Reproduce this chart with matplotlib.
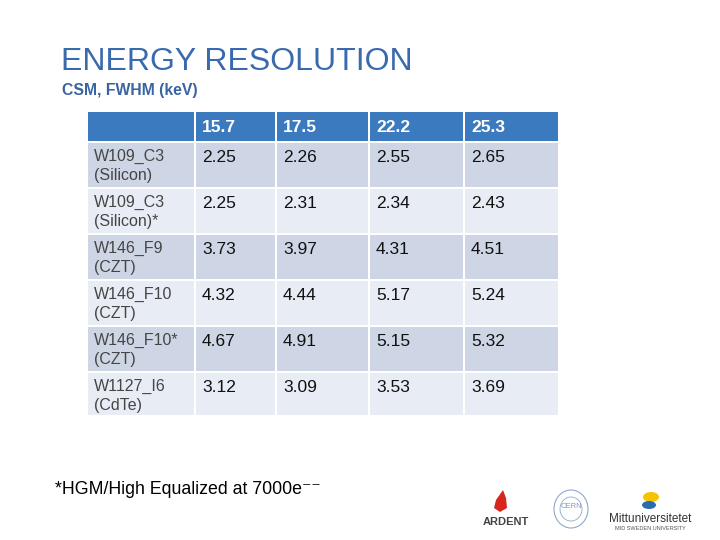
import matplotlib
matplotlib.use("Agg")
import matplotlib.pyplot as plt
from matplotlib.patches import Rectangle, Polygon, Ellipse

plt.rcParams['font.family'] = ['Liberation Sans', 'DejaVu Sans']

title = "ENERGY RESOLUTION"
subtitle = "CSM, FWHM (keV)"
energies = ["15.7", "17.5", "22.2", "25.3"]
detectors = ["W109_C3\n(Silicon)", "W109_C3\n(Silicon)*", "W146_F9\n(CZT)",
             "W146_F10\n(CZT)", "W146_F10*\n(CZT)", "W1127_I6\n(CdTe)"]
fwhm = [
    [2.25, 2.26, 2.55, 2.65],
    [2.25, 2.31, 2.34, 2.43],
    [3.73, 3.97, 4.31, 4.51],
    [4.32, 4.44, 5.17, 5.24],
    [4.67, 4.91, 5.15, 5.32],
    [3.12, 3.09, 3.53, 3.69],
]
footnote = "*HGM/High Equalized at 7000e\u207b\u207b"

fig = plt.figure(figsize=(7.2, 5.4), dpi=100)
ax = fig.add_axes([0, 0, 1, 1])
ax.set_xlim(0, 720)
ax.set_ylim(540, 0)
ax.axis('off')

# title
ax.text(61, 62, title, fontsize=23, color='#3A6AAE', va='center', ha='left')
ax.text(62, 90, subtitle, fontsize=11.3, fontweight='bold', color='#3A64A0', va='center', ha='left')

# table geometry
col_edges = [88, 195, 276, 369, 464, 559]
header_top, header_h, row_h = 112, 29, 46
gap = 2
header_col = '#3C7ABF'
odd_col = '#CED6E6'
even_col = '#E8ECF4'

for j in range(len(col_edges) - 1):
    x0 = col_edges[j] + (gap / 2 if j > 0 else 0)
    x1 = col_edges[j + 1] - gap / 2
    ax.add_patch(Rectangle((x0, header_top), x1 - x0, header_h, facecolor=header_col, edgecolor='none'))
    if j > 0:
        ax.text(x0 + 6, header_top + header_h / 2 + 1, energies[j - 1], fontsize=12.5, fontweight='bold',
                color='white', va='center', ha='left')

n = len(detectors)
for i, (name, vals) in enumerate(zip(detectors, fwhm)):
    y0 = header_top + header_h + gap + i * row_h
    h = row_h - gap if i < n - 1 else row_h - gap - 2
    fc = odd_col if i % 2 == 0 else even_col
    for j in range(len(col_edges) - 1):
        x0 = col_edges[j] + (gap / 2 if j > 0 else 0)
        x1 = col_edges[j + 1] - gap / 2
        ax.add_patch(Rectangle((x0, y0), x1 - x0, h, facecolor=fc, edgecolor='none'))
    ax.text(col_edges[0] + 6, y0 + 6, name, fontsize=11.5, color='#454545', va='top', ha='left',
            linespacing=1.3)
    for j, v in enumerate(vals):
        ax.text(col_edges[j + 1] + 7, y0 + 15, f"{v:.2f}", fontsize=12.5, color='#111111',
                va='center', ha='left')

# footnote
ax.text(55, 489, footnote, fontsize=12.8, color='black', va='center', ha='left')

# logos (simple sketches)
ax.add_patch(Polygon([[503, 490], [496, 500], [494, 508], [500, 512], [507, 508], [506, 498]],
                     closed=True, facecolor='#D7261E', edgecolor='none'))
ax.text(506, 522, "ARDENT", fontsize=8, fontweight='bold', color='#444444', ha='center', va='center')
ax.add_patch(Ellipse((571, 509), 34, 38, facecolor='none', edgecolor='#90A8CC', lw=0.8))
ax.add_patch(Ellipse((571, 509), 22, 24, facecolor='none', edgecolor='#90A8CC', lw=0.6))
ax.text(571, 507, "CERN", fontsize=5.5, color='#7F98C0', ha='center', va='center')
ax.add_patch(Ellipse((651, 497), 16, 10, facecolor='#F5C400', edgecolor='none'))
ax.add_patch(Ellipse((649, 505), 14, 8, facecolor='#2B6CB0', edgecolor='none'))
ax.text(650, 519, "Mittuniversitetet", fontsize=8.5, color='#333333', ha='center', va='center')
ax.text(650, 529, "MID SWEDEN UNIVERSITY", fontsize=4, color='#555555', ha='center', va='center')

fig.savefig("out.png", dpi=100, facecolor='white')
